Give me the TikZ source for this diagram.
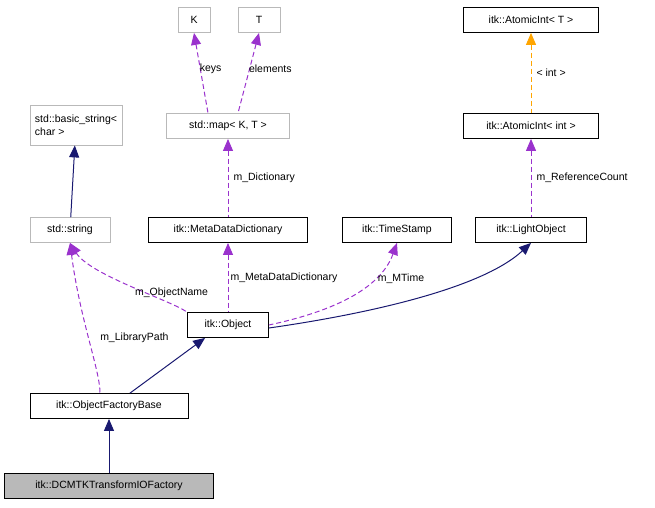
\documentclass[tikz,border=0pt]{standalone}
\usepackage{fontspec}
\setmainfont{Liberation Sans}
\usetikzlibrary{arrows.meta}
\definecolor{navyedge}{RGB}{25,25,112}
\definecolor{purpleedge}{RGB}{154,50,205}
\definecolor{orangeedge}{RGB}{255,165,0}
\tikzset{
cls/.style={
  draw,
  rectangle,
  line width=.8pt,
  minimum height=25pt,
  inner sep=3pt,
  font=\fontsize{10.5}{12.5}\selectfont,
  align=center
},
ext/.style={cls,draw=gray!55},
cur/.style={cls,fill=gray!55},
inherit/.style={navyedge,line width=1pt,{Triangle[length=12pt,width=10pt]}-},
usage/.style={purpleedge,line width=1pt,dash pattern=on 5pt off 3pt,{Triangle[length=12pt,width=10pt]}-},
tmpl/.style={orangeedge,line width=1pt,dash pattern=on 5pt off 3pt,{Triangle[length=12pt,width=10pt]}-},
lbl/.style={font=\fontsize{10.5}{12.5}\selectfont,text=black,inner sep=1pt}
}
\begin{document}
\begin{tikzpicture}[x=1pt,y=-1pt]
\useasboundingbox (0,0) rectangle (655,507);
% templates
\node[ext,minimum width=32pt] (k) at (194,20) {K};
\node[ext,minimum width=42pt] (t) at (259,20) {T};
\node[ext,minimum width=123pt] (map) at (228,126) {std::map< K, T >};
\node[cls,minimum width=135pt] (aiT) at (531,20) {itk::AtomicInt< T >};
\node[cls,minimum width=135pt] (aiint) at (531,126) {itk::AtomicInt< int >};
\node[ext,minimum width=92pt,minimum height=40pt,align=left] (bstr) at (76,125) {std::basic\_string<\\char >};
% members
\node[ext,minimum width=80pt] (str) at (70,230) {std::string};
\node[cls,minimum width=159pt] (mdd) at (228,230) {itk::MetaDataDictionary};
\node[cls,minimum width=109pt] (ts) at (397,230) {itk::TimeStamp};
\node[cls,minimum width=111pt] (lo) at (531,230) {itk::LightObject};
\node[cls,minimum width=81pt] (obj) at (228,325) {itk::Object};
\node[cls,minimum width=158pt] (ofb) at (109,406) {itk::ObjectFactoryBase};
\node[cur,minimum width=209pt] (fac) at (109,486) {itk::DCMTKTransformIOFactory};
% edges
\draw[usage] (k.south) -- (map.north -| 208,0) node[lbl,pos=.45,right=-2pt] {keys};
\draw[usage] (t.south) -- (map.north -| 238,0) node[lbl,pos=.45,right=-2pt] {elements};
\draw[usage] (map) -- (mdd) node[lbl,midway,right=4pt] {m\_Dictionary};
\draw[tmpl] (aiT) -- (aiint) node[lbl,midway,right=4pt] {< int >};
\draw[usage] (aiint) -- (lo) node[lbl,midway,right=4pt] {m\_ReferenceCount};
\draw[inherit] (bstr) -- (str);
\draw[usage] (str.south) .. controls (90,275) and (170,300) .. (obj.north west) node[lbl,pos=.5,anchor=north west,xshift=4pt,yshift=-1pt] {m\_ObjectName};
\draw[usage] (mdd) -- (obj) node[lbl,midway,right=1pt] {m\_MetaDataDictionary};
\draw[usage] (ts.south) .. controls (380,290) and (330,312) .. (obj.east) node[lbl,pos=.3,right=3pt] {m\_MTime};
\draw[inherit] (lo.south) .. controls (480,290) and (360,315) .. ([yshift=-3pt]obj.east);
\draw[usage] (str.south) .. controls (80,320) and (100,370) .. (ofb.north -| 100,0) node[lbl,pos=.5,right=10pt] {m\_LibraryPath};
\draw[inherit] (obj.south west) ++(18,0) -- (ofb.north -| 130,0);
\draw[inherit] (ofb) -- (fac);
\end{tikzpicture}
\end{document}
